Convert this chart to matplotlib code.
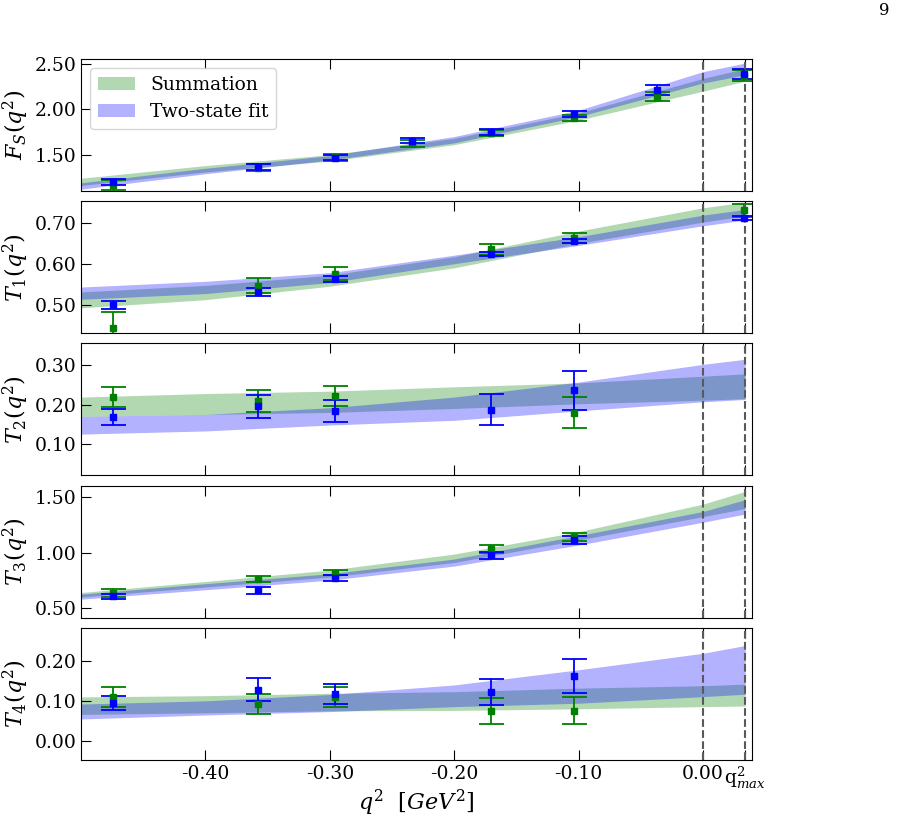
import numpy as np
import matplotlib
matplotlib.use("Agg")
import matplotlib.pyplot as plt

plt.rcParams["font.family"] = "DejaVu Serif"
plt.rcParams["mathtext.fontset"] = "dejavuserif"

q_max = 0.034

# lattice points (q^2 in GeV^2)
q_all = [-0.474, -0.358, -0.296, -0.234, -0.170, -0.104, -0.037, 0.033]
q_five = [-0.474, -0.358, -0.296, -0.170, -0.104]
q_t1 = [-0.474, -0.358, -0.296, -0.170, -0.104, 0.033]

# F_S
fs_sum = [1.17, 1.355, 1.47, 1.625, 1.74, 1.905, 2.14, 2.37]
fs_sum_err = [0.055, 0.04, 0.04, 0.04, 0.03, 0.035, 0.05, 0.06]
fs_two = [1.20, 1.365, 1.464, 1.654, 1.75, 1.95, 2.214, 2.39]
fs_two_err = [0.03, 0.03, 0.028, 0.027, 0.035, 0.035, 0.053, 0.055]

# T1
t1_sum = [0.443, 0.546, 0.576, 0.635, 0.663, 0.731]
t1_sum_err = [0.04, 0.018, 0.0155, 0.0145, 0.013, 0.016]
t1_two = [0.50, 0.531, 0.562, 0.624, 0.655, 0.712]
t1_two_err = [0.01, 0.009, 0.0075, 0.0055, 0.005, 0.006]

# T2
t2_sum_q = [-0.474, -0.358, -0.296, -0.104]
t2_sum = [0.219, 0.209, 0.221, 0.179]
t2_sum_err = [0.026, 0.0275, 0.0255, 0.0395]
t2_two = [0.169, 0.196, 0.183, 0.187, 0.236]
t2_two_err = [0.0205, 0.029, 0.0285, 0.039, 0.049]

# T3
t3_sum = [0.637, 0.76, 0.82, 1.03, 1.14]
t3_sum_err = [0.035, 0.029, 0.02, 0.036, 0.038]
t3_two = [0.607, 0.66, 0.773, 0.975, 1.115]
t3_two_err = [0.022, 0.03, 0.028, 0.035, 0.035]

# T4
t4_sum = [0.11, 0.092, 0.11, 0.075, 0.0755]
t4_sum_err = [0.0245, 0.025, 0.0245, 0.0325, 0.0335]
t4_two = [0.095, 0.1285, 0.117, 0.1215, 0.163]
t4_two_err = [0.017, 0.0285, 0.026, 0.0325, 0.0427]

# fit bands read at these q^2 values
band_q = [-0.5, -0.4, -0.3, -0.2, -0.1, 0.0, q_max]

fs_g_lo = [1.16, 1.31, 1.43, 1.61, 1.88, 2.20, 2.31]
fs_g_hi = [1.24, 1.38, 1.50, 1.68, 1.96, 2.34, 2.45]
fs_b_lo = [1.12, 1.29, 1.44, 1.63, 1.92, 2.29, 2.38]
fs_b_hi = [1.19, 1.35, 1.49, 1.70, 1.99, 2.415, 2.51]

t1_g_lo = [0.492, 0.512, 0.545, 0.590, 0.650, 0.702, 0.717]
t1_g_hi = [0.531, 0.547, 0.572, 0.617, 0.680, 0.737, 0.751]
t1_b_lo = [0.513, 0.527, 0.554, 0.600, 0.645, 0.693, 0.707]
t1_b_hi = [0.543, 0.557, 0.578, 0.621, 0.666, 0.719, 0.733]

t2_g_lo = [0.170, 0.175, 0.180, 0.190, 0.202, 0.211, 0.215]
t2_g_hi = [0.219, 0.228, 0.234, 0.245, 0.255, 0.272, 0.278]
t2_b_lo = [0.125, 0.133, 0.148, 0.160, 0.184, 0.207, 0.213]
t2_b_hi = [0.170, 0.175, 0.192, 0.219, 0.257, 0.302, 0.315]

t3_g_lo = [0.60, 0.69, 0.78, 0.912, 1.115, 1.327, 1.40]
t3_g_hi = [0.64, 0.74, 0.843, 0.988, 1.19, 1.44, 1.555]
t3_b_lo = [0.58, 0.665, 0.752, 0.879, 1.07, 1.276, 1.35]
t3_b_hi = [0.625, 0.72, 0.81, 0.943, 1.155, 1.373, 1.48]

t4_g_lo = [0.066, 0.070, 0.075, 0.076, 0.080, 0.0855, 0.087]
t4_g_hi = [0.110, 0.113, 0.119, 0.123, 0.132, 0.138, 0.142]
t4_b_lo = [0.0545, 0.0645, 0.073, 0.0855, 0.094, 0.1106, 0.1166]
t4_b_hi = [0.092, 0.100, 0.116, 0.140, 0.178, 0.2195, 0.239]

panels = [
    (r"$F_S(q^2)$", (1.10, 2.555), [1.5, 2.0, 2.5],
     (q_all, fs_sum, fs_sum_err), (q_all, fs_two, fs_two_err),
     (fs_g_lo, fs_g_hi, fs_b_lo, fs_b_hi)),
    (r"$T_1(q^2)$", (0.43, 0.753), [0.5, 0.6, 0.7],
     (q_t1, t1_sum, t1_sum_err), (q_t1, t1_two, t1_two_err),
     (t1_g_lo, t1_g_hi, t1_b_lo, t1_b_hi)),
    (r"$T_2(q^2)$", (0.02, 0.355), [0.1, 0.2, 0.3],
     (t2_sum_q, t2_sum, t2_sum_err), (q_five, t2_two, t2_two_err),
     (t2_g_lo, t2_g_hi, t2_b_lo, t2_b_hi)),
    (r"$T_3(q^2)$", (0.412, 1.606), [0.5, 1.0, 1.5],
     (q_five, t3_sum, t3_sum_err), (q_five, t3_two, t3_two_err),
     (t3_g_lo, t3_g_hi, t3_b_lo, t3_b_hi)),
    (r"$T_4(q^2)$", (-0.0485, 0.283), [0.0, 0.1, 0.2],
     (q_five, t4_sum, t4_sum_err), (q_five, t4_two, t4_two_err),
     (t4_g_lo, t4_g_hi, t4_b_lo, t4_b_hi)),
]

fig, axes = plt.subplots(5, 1, sharex=True, figsize=(9, 8.17), dpi=100)
fig.subplots_adjust(left=0.09, right=0.8356, top=0.9278, bottom=0.0698, hspace=0.078)

for ax, (ylab, ylim, yt, s, t, band) in zip(axes, panels):
    g_lo, g_hi, b_lo, b_hi = band
    ax.fill_between(band_q, g_lo, g_hi, color="green", alpha=0.3, lw=0, label="Summation")
    ax.fill_between(band_q, b_lo, b_hi, color="blue", alpha=0.3, lw=0, label="Two-state fit")
    ax.errorbar(s[0], s[1], yerr=s[2], fmt="s", color="green", ms=5, capsize=9, elinewidth=1.3, capthick=1.3)
    ax.errorbar(t[0], t[1], yerr=t[2], fmt="s", color="blue", ms=5, capsize=9, elinewidth=1.3, capthick=1.3)
    ax.axvline(0.0, color="0.35", ls="--", lw=1.5)
    ax.axvline(q_max, color="0.35", ls="--", lw=1.5)
    ax.set_ylim(*ylim)
    ax.set_yticks(yt)
    ax.set_yticklabels(["%.2f" % v for v in yt])
    ax.set_ylabel(ylab, fontsize=16, labelpad=2)
    ax.tick_params(direction="in", length=7, labelsize=13.5, top=True)

axes[0].legend(loc="upper left", fontsize=13.5)

xt = [-0.4, -0.3, -0.2, -0.1, 0.0, q_max]
axes[-1].set_xlim(-0.5, 0.0395)
axes[-1].set_xticks(xt)
axes[-1].set_xticklabels(["-0.40", "-0.30", "-0.20", "-0.10", "0.00", r"q$^2_{max}$"])
axes[-1].set_xlabel(r"$q^2$  $[GeV^2]$", fontsize=16, labelpad=-2)

fig.text(0.988, 0.997, "9", fontsize=12, ha="right", va="top")

fig.savefig("out.png", dpi=100)
